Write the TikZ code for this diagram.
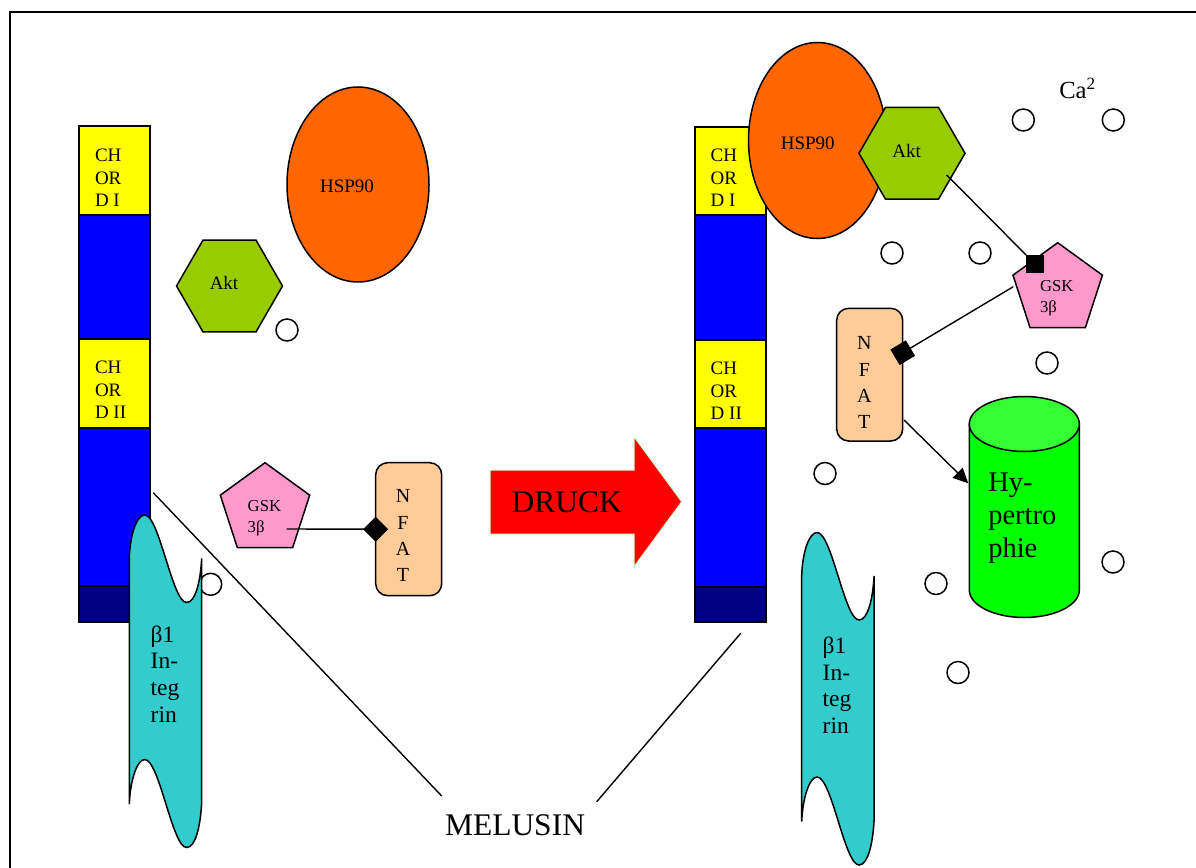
\documentclass[tikz,border=0pt]{standalone}
\usepackage{fontspec}
\setmainfont{Liberation Serif}
\usetikzlibrary{shapes.geometric,arrows.meta}
\definecolor{cyel}{HTML}{FFFF00}
\definecolor{cblue}{HTML}{0000FF}
\definecolor{cnavy}{HTML}{000080}
\definecolor{corange}{HTML}{FF6600}
\definecolor{cakt}{HTML}{99CC00}
\definecolor{cpink}{HTML}{FF99CC}
\definecolor{cpeach}{HTML}{FFCC99}
\definecolor{ccyan}{HTML}{33CCCC}
\definecolor{cgreen}{HTML}{00FF00}
\definecolor{cgreentop}{HTML}{33FF33}
\definecolor{cred}{HTML}{FF0000}
\definecolor{cpale}{HTML}{CCFFCC}
\newcommand{\fsA}{\fontsize{19}{22.5}\selectfont}
\newcommand{\fsG}{\fontsize{16.7}{21.3}\selectfont}
\newcommand{\fsN}{\fontsize{20}{26.3}\selectfont}
\newcommand{\fsI}{\fontsize{23.5}{26.7}\selectfont}
\newcommand{\fsH}{\fontsize{28.5}{33}\selectfont}
\newcommand{\fsD}{\fontsize{31.5}{36}\selectfont}
\newcommand{\fsC}{\fontsize{24.6}{28}\selectfont}
\tikzset{
  outl/.style={draw=black, line width=1.5pt},
  seg/.style={outl, inner sep=0pt, outer sep=0pt, minimum width=71pt, anchor=north west},
  txt/.style={inner sep=0pt, outer sep=0pt, text=black},
  hsp/.style={outl, ellipse, fill=corange, inner sep=0pt, outer sep=0pt},
  akt/.style={outl, regular polygon, regular polygon sides=6, fill=cakt, minimum size=106pt, inner sep=0pt, outer sep=0pt},
  gsk/.style={outl, regular polygon, regular polygon sides=5, fill=cpink, minimum size=94pt, inner sep=0pt, outer sep=0pt},
  nfat/.style={outl, rounded corners=12pt, fill=cpeach, minimum width=66pt, inner sep=0pt, outer sep=0pt, anchor=north west},
  ion/.style={outl, circle, fill=white, minimum size=22pt, inner sep=0pt, outer sep=0pt},
  sq/.style={fill=black, minimum size=18pt, inner sep=0pt, outer sep=0pt},
  dia/.style={diamond, fill=black, minimum width=25pt, minimum height=25pt, inner sep=0pt, outer sep=0pt},
  conn/.style={draw=black, line width=1.4pt},
  integrin/.pic={
    \draw[line width=1.5pt, fill=ccyan] (0,0) .. controls (1,-25) and (8,-42.5) .. (15.4,-42.5)
      .. controls (30,-42.5) and (43,45) .. (57.3,45)
      .. controls (66,45) and (71,25) .. (72.4,1) -- (72.4,245)
      .. controls (71,270) and (66,290) .. (57.3,290)
      .. controls (43,290) and (30,202) .. (15.4,202)
      .. controls (8,202) and (1,222) .. (0,246.5) -- cycle;
  }
}
\begin{document}
\begin{tikzpicture}[x=1pt,y=-1pt]
\useasboundingbox (0,0) rectangle (1196,867);
\fill[white] (0,0) rectangle (1196,867);
% frame
\coordinate (frBL) at (9.5,900);
\coordinate (frTL) at (9.5,12.5);
\coordinate (frTR) at (1230,12.5);
\draw[line width=2pt] (frBL) -- (frTL) -- (frTR);

% ---------- left column ----------
\node[seg, fill=cyel,  minimum height=89pt]  (l1) at (79,126) {};
\node[seg, fill=cblue, minimum height=124pt] (l2) at (79,215) {};
\node[seg, fill=cyel,  minimum height=89pt]  (l3) at (79,339) {};
\node[seg, fill=cblue, minimum height=158pt] (l4) at (79,428) {};
\node[seg, fill=cnavy, minimum height=36pt]  (l5) at (79,586) {};
\node[txt, anchor=north west, align=left, font=\fsA] (l1t) at (95,149) {CH\\OR\\D I};
\node[txt, anchor=north west, align=left, font=\fsA] (l3t) at (95,361) {CH\\OR\\D II};

% left proteins
\node[hsp, minimum width=142pt, minimum height=195pt] (hspL) at (358,184.5) {};
\node[txt, anchor=base, font=\fsA] (hspLt) at (347,192.7) {HSP90};
\node[akt] (aktL) at (229.5,286) {};
\node[txt, anchor=base, font=\fsA] (aktLt) at (224,289.3) {Akt};
\node[ion] (iL1) at (287,330) {};
\node[gsk] (gskL) at (265,509.7) {};
\node[txt, anchor=north west, align=left, font=\fsG] (gskLt) at (247.7,500.5) {GSK\\3β};
\node[nfat, minimum height=133pt] (nfatL) at (375.7,462.7) {};
\node[txt, anchor=north, align=center, font=\fsN] (nfatLt) at (403,489.8) {N\\F\\A\\T};
\coordinate (gskLo) at (286.7,529);
\draw[conn] (gskLo) -- (nfatL.west);
\node[dia] (diaL) at (nfatL.west) {};

% left integrin
\node[ion] (iL2) at (210.7,584.3) {};
\pic at (129.3,557.5) {integrin};
\node[txt, anchor=north west, align=left, font=\fsI] (intLt) at (150.7,625.5) {β1\\In-\\teg\\rin};

% melusin
\node[txt, anchor=base, font=\fsD] (mel) at (515,835) {MELUSIN};
\coordinate (mL1) at (153.3,492.7);
\coordinate (mL2) at (441.7,796);
\coordinate (mR1) at (596.7,801.7);
\coordinate (mR2) at (740.7,633.3);
\draw[conn] (mL1) -- (mL2);
\draw[conn] (mR1) -- (mR2);

% DRUCK arrow
\draw[draw=cpale, line width=1pt, fill=cred] (490,470) -- (634,470) -- (634,436.7) -- (681.7,501.7) -- (634,566.7) -- (634,534) -- (490,534) -- cycle;
\node[txt, anchor=base, font=\fsD] (druck) at (566.7,512.7) {DRUCK};

% ---------- right column ----------
\node[seg, fill=cyel,  minimum height=88pt]  (r1) at (695,127) {};
\node[seg, fill=cblue, minimum height=125pt] (r2) at (695,215) {};
\node[seg, fill=cyel,  minimum height=88pt]  (r3) at (695,340) {};
\node[seg, fill=cblue, minimum height=159pt] (r4) at (695,428) {};
\node[seg, fill=cnavy, minimum height=35pt]  (r5) at (695,587) {};
\node[txt, anchor=north west, align=left, font=\fsA] (r1t) at (710.7,149.3) {CH\\OR\\D I};
\node[txt, anchor=north west, align=left, font=\fsA] (r3t) at (710.7,362) {CH\\OR\\D II};

\node[hsp, minimum width=138pt, minimum height=196pt] (hspR) at (817.5,140.5) {};
\node[txt, anchor=base, font=\fsA] (hspRt) at (807.7,149) {HSP90};
\node[akt] (aktR) at (912,153.3) {};
\node[txt, anchor=base, font=\fsA] (aktRt) at (906.7,157.3) {Akt};

% ions
\node[ion] (iR1) at (1023.3,120) {};
\node[ion] (iR2) at (1113.3,120) {};
\node[ion] (iR3) at (892,253) {};
\node[ion] (iR4) at (980,253) {};
\node[ion] (iR5) at (1047,363) {};
\node[ion] (iR6) at (825,473.5) {};
\node[ion] (iR7) at (936,583.5) {};
\node[ion] (iR8) at (1113,562) {};
\node[ion] (iR9) at (958,672.5) {};
\node[txt, anchor=base west, font=\fsC] (ca) at (1059.3,98.3) {Ca\textsuperscript{2}};

\node[gsk] (gskR) at (1057.7,289.7) {};
\node[txt, anchor=north west, align=left, font=\fsG] (gskRt) at (1040,280.4) {GSK\\3β};
\node[nfat, minimum height=132.7pt] (nfatR) at (836.7,308.3) {};
\node[txt, anchor=north, align=center, font=\fsN] (nfatRt) at (864.3,336.8) {N\\F\\A\\T};

% Akt -| GSK
\coordinate (aktRo) at (946.7,175);
\node[sq] (sqA) at (1035,264) {};
\draw[conn] (aktRo) -- (sqA);
% GSK -| NFAT
\coordinate (gskRo) at (1013.3,286.7);
\node[sq, rotate=30.8] (sqB) at (902.7,352.7) {};
\draw[conn] (gskRo) -- (sqB);

% cylinder
\draw[outl, fill=cgreen] (969.3,424) -- (969.3,590)
  .. controls (969.3,605.2) and (993.9,617.5) .. (1024.3,617.5)
  .. controls (1054.7,617.5) and (1079.3,605.2) .. (1079.3,590)
  -- (1079.3,424) -- cycle;
\draw[outl, fill=cgreentop] (1024.3,424) ellipse [x radius=55, y radius=27.5];
\node[txt, anchor=north west, align=left, font=\fsH] (hyp) at (988.3,472.8) {Hy-\\pertro\\phie};
\coordinate (cylIn) at (968.3,483.3);
\coordinate (nfatRo) at (904,420);
\draw[conn, -{Triangle[length=15pt,width=14pt]}] (nfatRo) -- (cylIn);

% right integrin
\pic at (801.7,575) {integrin};
\node[txt, anchor=north west, align=left, font=\fsI] (intRt) at (822.7,637) {β1\\In-\\teg\\rin};
\end{tikzpicture}
\end{document}
